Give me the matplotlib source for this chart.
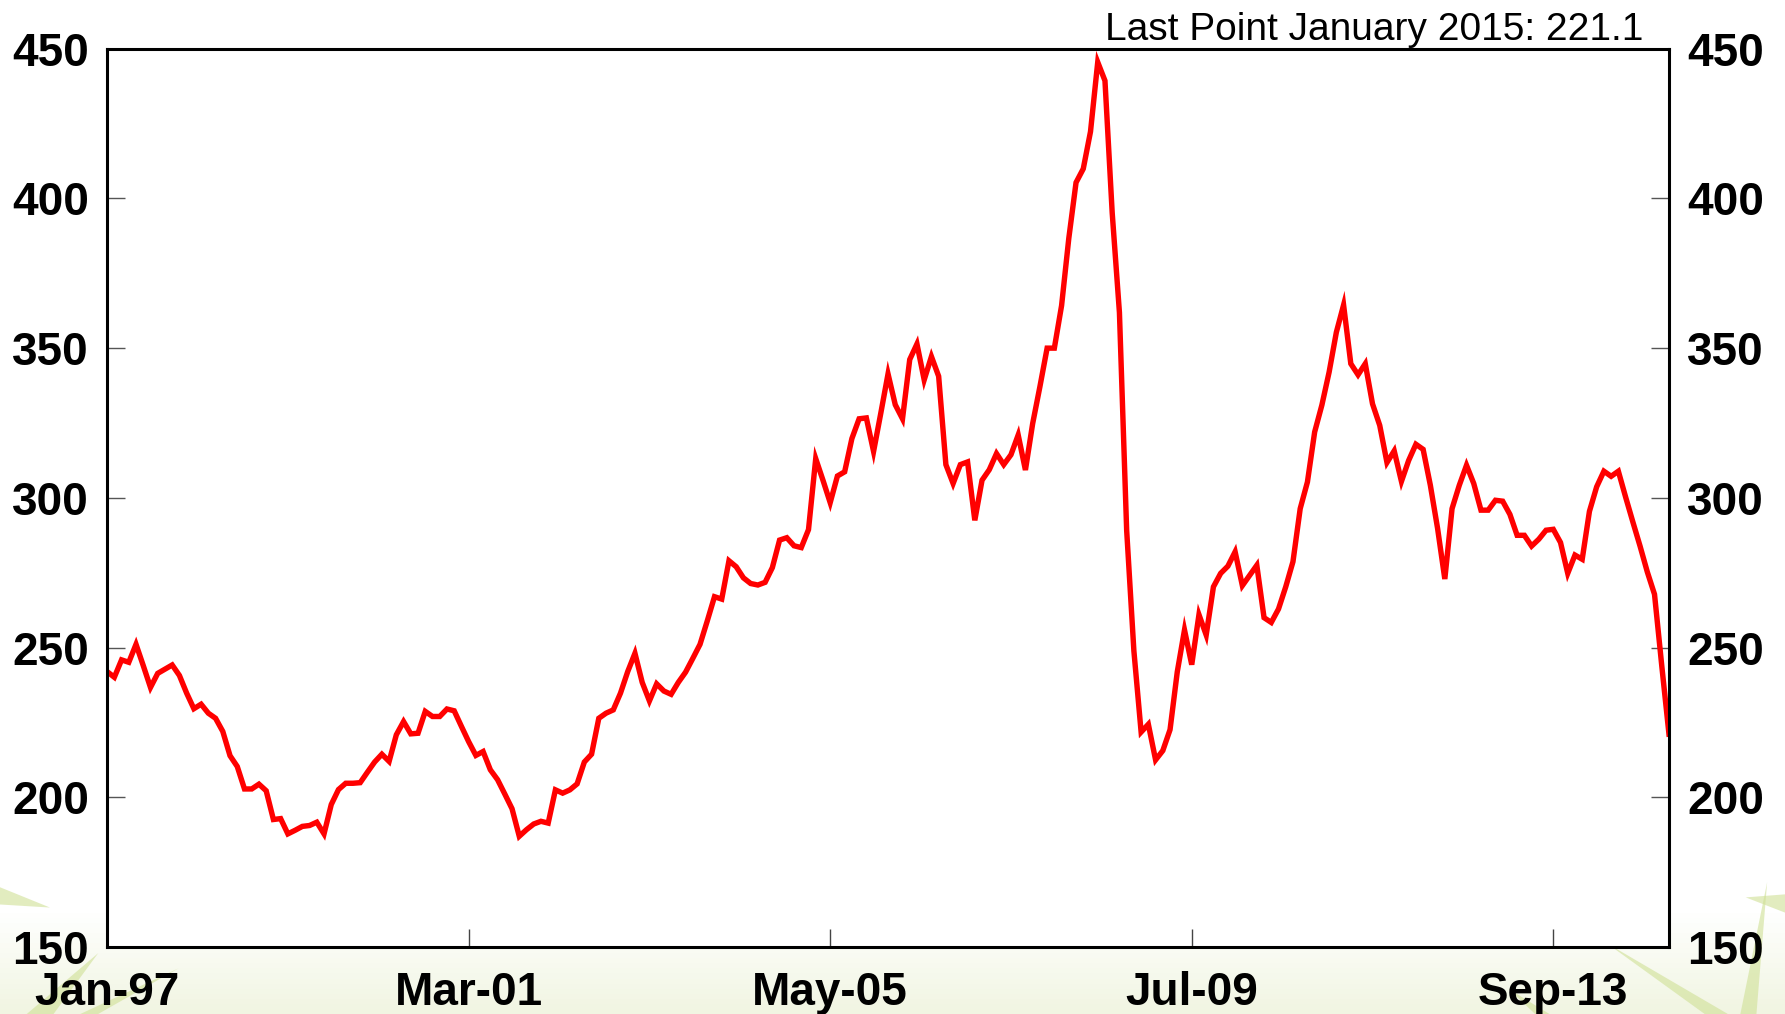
import numpy as np
import pandas as pd
import matplotlib
matplotlib.use('Agg')
import matplotlib.pyplot as plt
from matplotlib.patches import Polygon

# monthly index, Jan-1997 .. Jan-2015
start_month = '1997-01'
values = [
    242.0, 240.1, 245.9, 245.1, 251.1, 244.0, 236.7, 241.4, 242.8, 244.2,
    240.7, 234.8, 229.6, 231.1, 228.1, 226.4, 222.0, 213.9, 210.3, 202.8,
    202.8, 204.4, 202.2, 192.6, 192.9, 187.8, 189.0, 190.3, 190.6, 191.7,
    187.8, 197.6, 202.6, 204.7, 204.7, 204.9, 208.4, 211.8, 214.4, 212.0,
    220.9, 225.3, 221.2, 221.4, 228.7, 227.0, 227.0, 229.5, 228.9, 223.7,
    218.6, 214.0, 215.3, 209.2, 205.9, 201.1, 196.2, 187.0, 189.2, 191.1,
    192.0, 191.4, 202.5, 201.4, 202.5, 204.5, 211.8, 214.4, 226.4, 228.1,
    229.2, 234.8, 242.0, 248.1, 238.4, 232.2, 237.9, 235.5, 234.4, 238.4,
    241.8, 246.4, 251.1, 258.9, 267.0, 266.2, 279.0, 277.0, 273.3, 271.4,
    270.9, 271.8, 276.7, 285.9, 286.7, 284.0, 283.4, 289.4, 313.1, 305.9,
    298.4, 307.3, 308.7, 319.8, 326.4, 326.7, 315.5, 328.3, 341.4, 331.1,
    326.4, 346.2, 351.4, 339.4, 347.2, 340.6, 311.1, 304.8, 311.1, 312.0,
    292.5, 305.9, 309.4, 314.8, 311.1, 314.4, 321.0, 309.3, 324.8, 337.1,
    350.0, 350.0, 364.2, 386.7, 405.3, 409.9, 422.3, 445.5, 439.3, 395.2,
    361.9, 289.2, 248.9, 221.8, 224.4, 212.5, 215.6, 222.6, 241.9, 255.9,
    244.3, 261.0, 254.2, 270.3, 274.8, 277.2, 282.0, 270.7, 274.1, 277.5,
    260.0, 258.4, 262.9, 270.3, 278.7, 296.4, 305.3, 322.0, 331.0, 342.0,
    355.3, 364.4, 344.8, 341.1, 344.8, 331.4, 324.2, 311.8, 315.7, 305.5,
    312.5, 317.9, 316.2, 304.2, 289.8, 272.9, 296.4, 304.2, 310.9, 304.8,
    295.9, 295.9, 299.2, 298.9, 294.5, 287.5, 287.5, 283.9, 286.2, 289.2,
    289.5, 285.1, 274.8, 280.9, 279.5, 295.5, 303.7, 308.9, 307.2, 308.9,
    300.3, 292.0, 283.9, 275.3, 267.8, 244.0, 221.1,
]
dates = pd.date_range(start_month, periods=len(values), freq='MS')
x_ticks = [0, 50, 100, 150, 200]
y_ticks = [150, 200, 250, 300, 350, 400, 450]
note = 'Last Point January 2015: 221.1'

plt.rcParams['font.family'] = ['Liberation Sans', 'DejaVu Sans']

fig = plt.figure(figsize=(17.85, 10.14), dpi=100)

# faint background: pale green band at the bottom and some grass strokes
bg = fig.add_axes([0, 0, 1, 1], zorder=-10)
grad = np.linspace(1, 0, 200)[:, None]
grad = np.clip(grad / 0.10, 0, 1)
cmap = matplotlib.colors.LinearSegmentedColormap.from_list('bgc', ['#f1f5e2', '#ffffff'])
bg.imshow(grad, extent=[0, 1, 0, 1], aspect='auto', cmap=cmap, origin='upper')
grass = [
    [(0.0, 0.125), (0.028, 0.105), (0.0, 0.108)],
    [(0.015, 0.0), (0.055, 0.06), (0.03, 0.0)],
    [(0.045, 0.0), (0.10, 0.045), (0.055, 0.0)],
    [(0.955, 0.0), (0.90, 0.07), (0.968, 0.0)],
    [(0.975, 0.0), (0.99, 0.13), (0.984, 0.0)],
    [(1.0, 0.10), (0.978, 0.115), (1.0, 0.118)],
    [(0.86, 0.0), (0.845, 0.025), (0.868, 0.0)],
]
for g in grass:
    bg.add_patch(Polygon(g, closed=True, color='#cfe095', alpha=0.6, lw=0))
bg.set_xlim(0, 1)
bg.set_ylim(0, 1)
bg.axis('off')

ax = fig.add_axes([0.060, 0.066, 0.875, 0.886])
ax.patch.set_facecolor('white')
ax.plot(np.arange(len(values)), values, color='#ff0000', linewidth=3.9, solid_joinstyle='miter')

ax.set_xlim(0, len(values) - 1)
ax.set_ylim(150, 450)
ax.set_xticks(x_ticks)
ax.set_xticklabels([dates[i].strftime('%b-%y') for i in x_ticks])
ax.set_yticks(y_ticks)

for s in ax.spines.values():
    s.set_linewidth(2.2)
    s.set_color('black')

ax.tick_params(axis='y', direction='in', length=13, width=1.0, color='#555555',
               left=True, right=True, labelleft=True, labelright=True,
               labelsize=33, pad=13)
ax.tick_params(axis='x', direction='in', length=13, width=1.0, color='#444444',
               labelsize=33, pad=17)
for lbl in ax.get_xticklabels() + ax.get_yticklabels():
    lbl.set_fontweight('bold')
for t in ax.yaxis.get_major_ticks():
    t.label2.set_fontweight('bold')

fig.text(0.9205, 0.9606, note, ha='right', va='baseline', fontsize=28)

fig.savefig('out.png', dpi=100)
